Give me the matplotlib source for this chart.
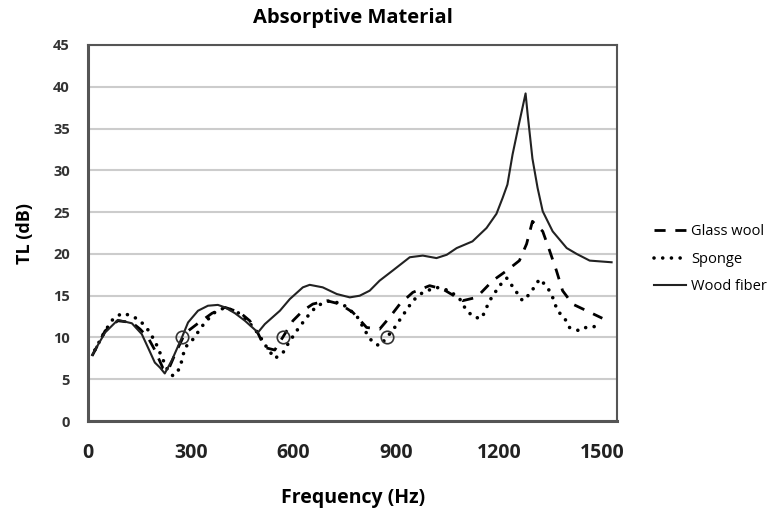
import numpy as np
import matplotlib.pyplot as plt

# data (frequency in Hz, TL in dB)
wood_f = [12, 50, 87, 128, 157, 175, 195, 210, 224, 245, 274, 292, 321, 350, 379, 400,
          429, 458, 496, 516, 560, 589, 627, 647, 685, 726, 764, 793, 822, 851, 889,
          939, 977, 1017, 1047, 1076, 1122, 1163, 1192, 1210, 1224, 1239, 1259, 1277,
          1283, 1297, 1312, 1327, 1356, 1397, 1426, 1464, 1528]
wood_tl = [7.9, 10.6, 12.1, 11.7, 10.4, 8.8, 7.0, 6.4, 5.7, 7.3, 10.0, 11.8, 13.2, 13.8,
           13.9, 13.6, 12.9, 12.0, 10.6, 11.6, 13.2, 14.6, 16.0, 16.3, 16.0, 15.2, 14.8,
           15.0, 15.6, 16.8, 18.0, 19.6, 19.8, 19.5, 19.9, 20.7, 21.5, 23.1, 24.8, 26.7,
           28.3, 31.9, 35.8, 39.2, 36.7, 31.4, 27.9, 25.1, 22.7, 20.7, 20.0, 19.2, 19.0]

glass_f = [12, 50, 87, 128, 152, 175, 195, 219, 233, 254, 283, 318, 362, 400, 443, 472,
           496, 516, 545, 568, 598, 627, 656, 697, 735, 773, 813, 831, 851, 880, 910,
           948, 997, 1035, 1076, 1093, 1134, 1181, 1222, 1259, 1280, 1297, 1327, 1347,
           1367, 1385, 1414, 1455, 1501]
glass_tl = [7.8, 10.8, 12.0, 11.8, 11.0, 10.0, 8.5, 6.3, 6.0, 8.0, 10.5, 11.6, 12.9,
            13.6, 13.0, 12.0, 10.5, 8.8, 8.5, 10.0, 12.0, 13.2, 14.0, 14.4, 14.0, 13.0,
            11.2, 11.1, 11.0, 12.4, 14.0, 15.4, 16.2, 15.8, 14.8, 14.4, 14.8, 16.8, 18.0,
            19.2, 21.2, 23.9, 22.7, 20.4, 18.0, 15.6, 14.0, 13.2, 12.3]

sponge_f = [20, 50, 73, 99, 128, 152, 172, 195, 216, 230, 248, 268, 283, 303, 341, 370,
            400, 437, 466, 496, 522, 545, 568, 580, 609, 638, 668, 706, 743, 784, 813,
            831, 851, 872, 895, 918, 948, 977, 1017, 1055, 1085, 1105, 1128, 1149, 1172,
            1201, 1222, 1251, 1268, 1289, 1318, 1341, 1356, 1370, 1391, 1405, 1434, 1458,
            1484]
sponge_tl = [8.5, 10.8, 12.2, 12.9, 12.6, 12.0, 11.1, 9.6, 7.6, 6.3, 5.4, 6.3, 8.8, 9.6,
             11.8, 13.0, 13.6, 13.0, 12.0, 10.5, 8.8, 7.5, 8.1, 9.0, 10.8, 12.4, 13.8,
             14.4, 14.0, 12.6, 10.5, 9.4, 9.0, 10.0, 11.2, 12.6, 14.4, 15.4, 16.0, 15.6,
             14.6, 13.2, 12.4, 12.3, 14.4, 16.2, 17.1, 15.4, 14.4, 15.2, 17.0, 16.0, 14.8,
             13.2, 12.3, 11.2, 10.8, 11.3, 11.3]

circle_f = [274, 568, 872]
circle_tl = [10, 10, 10]

x_ticks = [0, 300, 600, 900, 1200, 1500]
y_ticks = [0, 5, 10, 15, 20, 25, 30, 35, 40, 45]

plt.rcParams['font.family'] = ['Open Sans', 'DejaVu Sans']

fig = plt.figure(figsize=(7.74, 5.11), dpi=100)
ax = fig.add_axes([0.1137, 0.176, 0.684, 0.736])

ax.plot(glass_f, glass_tl, color='black', lw=2.0, dashes=(4, 3.5), label='Glass wool')
ax.plot(sponge_f, sponge_tl, color='black', lw=2.6, dashes=(0.01, 2.4),
        dash_capstyle='round', label='Sponge')
ax.plot(wood_f, wood_tl, color='#222222', lw=1.5, label='Wood fiber')
ax.plot(circle_f, circle_tl, 'o', mfc='none', mec='#333333', ms=9, mew=1.2)

ax.set_xlim(0, 1545)
ax.set_ylim(0, 45)
ax.set_xticks(x_ticks)
ax.set_yticks(y_ticks)
ax.tick_params(axis='x', length=0, pad=16, labelsize=14, labelcolor='#222222')
ax.tick_params(axis='y', length=0, pad=13, labelsize=10.5, labelcolor='#333333')
for lab in ax.get_xticklabels() + ax.get_yticklabels():
    lab.set_fontweight('bold')

ax.grid(axis='y', color='#cccccc', lw=1.5)
ax.set_axisbelow(True)
for s in ax.spines.values():
    s.set_color('#555555')
    s.set_linewidth(1.5)
ax.spines['left'].set_linewidth(2.2)
ax.spines['bottom'].set_linewidth(2.2)

ax.set_title('Absorptive Material', fontsize=14.5, fontweight='bold', pad=16)
ax.set_xlabel('Frequency (Hz)', fontsize=14, fontweight='bold', labelpad=18)
ax.set_ylabel('TL (dB)', fontsize=13, fontweight='bold', labelpad=14)

ax.legend(loc='center left', bbox_to_anchor=(1.045, 0.43), frameon=False,
          fontsize=10.5, handlelength=2.2, handletextpad=0.3, labelspacing=0.85)

fig.savefig('out.png', dpi=100)
